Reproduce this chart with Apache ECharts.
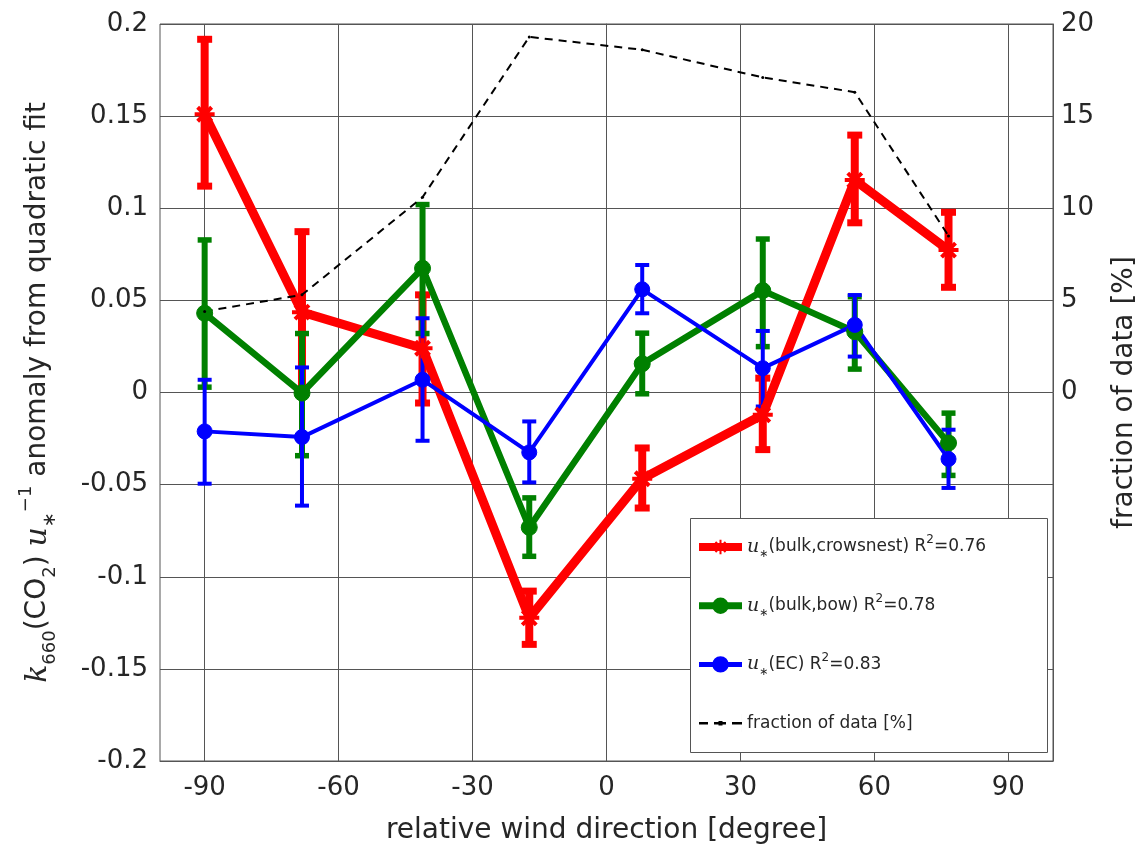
<!DOCTYPE html>
<html><head><meta charset="utf-8">
<script src="https://cdn.jsdelivr.net/npm/echarts@6/dist/echarts.min.js"></script>
<style>html,body{margin:0;padding:0;background:#fff}#c{width:1147px;height:850px}</style>
</head><body><div id="c"></div>
<script>
// ---- data ----
const directions = [-90, -68.2, -41.2, -17.3, 8, 35, 55.6, 76.6];
const crowsnest   = [0.151, 0.0436, 0.024, -0.1223, -0.0468, -0.0121, 0.1153, 0.0773];
const crowsnestLo = [0.112, 0.001, -0.0057, -0.1367, -0.0627, -0.031, 0.0921, 0.0571];
const crowsnestHi = [0.1917, 0.0873, 0.053, -0.1078, -0.0301, 0.0078, 0.1397, 0.0978];
const bow   = [0.043, -0.0003, 0.0674, -0.0732, 0.0156, 0.0553, 0.033, -0.0274];
const bowLo = [0.0029, -0.0343, 0.032, -0.0889, -0.0007, 0.0249, 0.0127, -0.045];
const bowHi = [0.0828, 0.032, 0.102, -0.0572, 0.0322, 0.0833, 0.052, -0.0112];
const ec   = [-0.0211, -0.0242, 0.0069, -0.0325, 0.056, 0.0132, 0.0367, -0.0361];
const ecLo = [-0.0495, -0.0614, -0.0262, -0.0488, 0.043, -0.0076, 0.0195, -0.0518];
const ecHi = [0.0069, 0.0136, 0.0403, -0.0157, 0.0692, 0.0334, 0.0529, -0.0202];
const fractionOfData = [4.4, 5.3, 10.6, 19.3, 18.6, 17.1, 16.3, 8.5];
const xTicks = [-90, -60, -30, 0, 30, 60, 90];
const legendLabels = {
  crowsnest: '{u|u}{s|∗}{n|(bulk,crowsnest) R}{p|2}{n|=0.76}',
  bow: '{u|u}{s|∗}{n|(bulk,bow) R}{p|2}{n|=0.78}',
  EC: '{u|u}{s|∗}{n|(EC) R}{p|2}{n|=0.83}',
  fraction: '{n|fraction of data [%]}'
};

const FONT = 'DejaVu Sans';
const TXT = '#262626';
const RED = '#ff0000', GREEN = '#008000', BLUE = '#0000ff';
const asterisk = 'path://M10,0L10,20M0,10L20,10M3,3L17,17M3,17L17,3';
const dashIcon = 'path://M0,0h0.01v18h-0.01zM43,0h0.01v18h-0.01zM0,8h9v2.4h-9zM15,8h12v2.4h-12zM19.5,7h4v4.4h-4zM33,8h10v2.4h-10z';

function pairs(ys) { return directions.map((x, i) => [x, ys[i]]); }
function errSeries(name, lo, hi, color, barW, capW, capH) {
  return {
    type: 'custom', name: name, silent: true,
    data: directions.map((x, i) => [x, lo[i], hi[i]]),
    encode: { x: 0, y: [1, 2] },
    renderItem: function (params, api) {
      const x = api.value(0);
      const p1 = api.coord([x, api.value(1)]);
      const p2 = api.coord([x, api.value(2)]);
      return { type: 'group', children: [
        { type: 'line', shape: { x1: p1[0], y1: p1[1], x2: p2[0], y2: p2[1] }, style: { stroke: color, lineWidth: barW } },
        { type: 'rect', shape: { x: p1[0] - capW / 2, y: p1[1] - capH / 2, width: capW, height: capH }, style: { fill: color } },
        { type: 'rect', shape: { x: p2[0] - capW / 2, y: p2[1] - capH / 2, width: capW, height: capH }, style: { fill: color } }
      ]};
    }
  };
}

const richSmall = {
  n: { fontFamily: FONT, fontSize: 17, color: TXT, lineHeight: 26, verticalAlign: 'middle' },
  u: { fontFamily: 'DejaVu Serif', fontStyle: 'italic', fontSize: 19, color: TXT, lineHeight: 26, verticalAlign: 'middle' },
  s: { fontFamily: FONT, fontSize: 11, color: TXT, lineHeight: 13, verticalAlign: 'bottom' },
  p: { fontFamily: FONT, fontSize: 12, color: TXT, lineHeight: 15, verticalAlign: 'top' }
};
const richBig = {
  n: { fontFamily: FONT, fontSize: 28, color: TXT, lineHeight: 42, verticalAlign: 'middle' },
  k: { fontFamily: 'DejaVu Serif', fontStyle: 'italic', fontSize: 30, color: TXT, lineHeight: 42, verticalAlign: 'middle' },
  u: { fontFamily: 'DejaVu Serif', fontStyle: 'italic', fontSize: 30, color: TXT, lineHeight: 42, verticalAlign: 'middle' },
  s: { fontFamily: FONT, fontSize: 18, color: TXT, lineHeight: 22, verticalAlign: 'bottom' },
  p: { fontFamily: FONT, fontSize: 18, color: TXT, lineHeight: 22, verticalAlign: 'top' }
};

const chart = echarts.init(document.getElementById('c'));
chart.setOption({
  animation: false,
  backgroundColor: '#fff',
  textStyle: { fontFamily: FONT },
  grid: { left: 160, right: 94, top: 24, bottom: 88, show: true, borderColor: '#555', borderWidth: 1, backgroundColor: 'transparent' },
  xAxis: {
    type: 'value', min: -100, max: 100,
    name: 'relative wind direction [degree]', nameLocation: 'middle', nameGap: 56,
    nameTextStyle: { fontFamily: FONT, fontSize: 28, color: TXT },
    axisLine: { show: true, onZero: false, lineStyle: { color: '#555', width: 1 } },
    axisTick: { show: false, customValues: xTicks },
    axisLabel: { customValues: xTicks, fontFamily: FONT, fontSize: 26, color: TXT, margin: 14 },
    splitLine: { show: true, lineStyle: { color: '#555', width: 1 } }
  },
  yAxis: [{
    type: 'value', min: -0.2, max: 0.2, interval: 0.05, position: 'left',
    name: '{k|k}{s|660}{n|(CO}{s|2}{n|) }{u|u}{s|∗}{p|−1}{n| anomaly from quadratic fit}',
    nameLocation: 'middle', nameGap: 101, nameRotate: 90,
    nameTextStyle: { fontFamily: FONT, fontSize: 28, color: TXT, rich: richBig },
    axisLine: { show: true, lineStyle: { color: '#555', width: 1 } },
    axisTick: { show: false },
    axisLabel: { fontFamily: FONT, fontSize: 26, color: TXT, margin: 12 },
    splitLine: { show: true, lineStyle: { color: '#555', width: 1 } }
  }, {
    type: 'value', min: -20, max: 20, interval: 5, position: 'right',
    name: 'fraction of data [%]', nameLocation: 'middle', nameGap: 58, nameRotate: 90,
    nameTextStyle: { fontFamily: FONT, fontSize: 28, color: TXT },
    axisLine: { show: true, lineStyle: { color: '#555', width: 1 } },
    axisTick: { show: false },
    axisLabel: { fontFamily: FONT, fontSize: 26, color: TXT, margin: 8,
      formatter: function (v) { return v < 0 ? '' : String(v); } },
    splitLine: { show: false }
  }],
  legend: {
    orient: 'vertical', left: 695, top: 534, padding: 0, itemGap: 32.7, z: 6,
    itemWidth: 43, itemHeight: 18,
    data: [
      { name: 'crowsnest', lineStyle: { width: 8 } },
      { name: 'bow', lineStyle: { width: 7 } },
      { name: 'EC', lineStyle: { width: 5 } },
      { name: 'fraction', icon: dashIcon, itemStyle: { color: '#000' } }
    ],
    formatter: function (name) { return legendLabels[name]; },
    textStyle: { fontFamily: FONT, fontSize: 17, color: TXT, lineHeight: 26, rich: richSmall }
  },
  graphic: [{
    type: 'rect', left: 690, top: 518, z: 3, silent: true,
    shape: { width: 357, height: 234 },
    style: { fill: '#fff', stroke: '#555', lineWidth: 1 }
  }],
  series: [
    errSeries('crowsnestErr', crowsnestLo, crowsnestHi, RED, 8, 15, 7),
    { type: 'line', name: 'crowsnest', data: pairs(crowsnest), color: RED,
      lineStyle: { color: RED, width: 9 }, symbol: asterisk, symbolSize: 20,
      itemStyle: { color: RED, borderColor: RED, borderWidth: 4 } },
    errSeries('bowErr', bowLo, bowHi, GREEN, 6, 14, 5.5),
    { type: 'line', name: 'bow', data: pairs(bow), color: GREEN,
      lineStyle: { color: GREEN, width: 6.5 }, symbol: 'circle', symbolSize: 16,
      itemStyle: { color: GREEN, borderColor: GREEN, borderWidth: 1 } },
    errSeries('ecErr', ecLo, ecHi, BLUE, 4, 14, 4),
    { type: 'line', name: 'EC', data: pairs(ec), color: BLUE,
      lineStyle: { color: BLUE, width: 4 }, symbol: 'circle', symbolSize: 15,
      itemStyle: { color: BLUE, borderColor: BLUE, borderWidth: 1 } },
    { type: 'line', name: 'fraction', yAxisIndex: 1, data: pairs(fractionOfData), color: '#000',
      lineStyle: { color: '#000', width: 2, type: [8, 6] }, symbol: 'circle', symbolSize: 3,
      itemStyle: { color: '#000' } }
  ]
});
</script>
</body></html>
